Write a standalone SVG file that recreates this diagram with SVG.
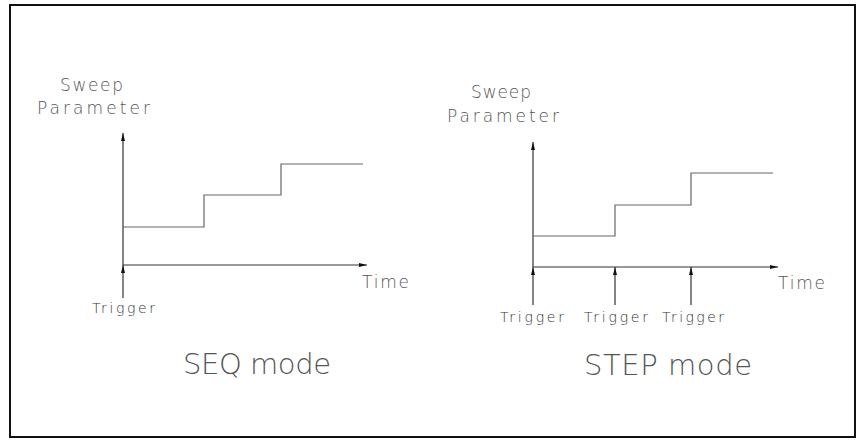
<svg xmlns="http://www.w3.org/2000/svg" width="859" height="442" viewBox="0 0 859 442">
<style>
.t{font-family:"DejaVu Sans","Liberation Sans",sans-serif;font-weight:200;fill:#555}
.lbl{font-size:17px}
.trg{font-size:14px;fill:#333}
.mode{font-size:29px}
.ax{fill:none;stroke:#333;stroke-width:1.2}
.step{fill:none;stroke:#666;stroke-width:1.2}
</style>
<defs>
<marker id="ah" markerUnits="userSpaceOnUse" markerWidth="9" markerHeight="5" refX="8" refY="2.5" orient="auto">
<path d="M0,0.5 L8,2.5 L0,4.5 z" fill="#111"/>
</marker>
</defs>
<rect x="10" y="5" width="845" height="432" fill="#fff" stroke="#111" stroke-width="2"/>
<g id="connectors">
<path class="ax" d="M123,265 V133" marker-end="url(#ah)"/>
<path class="ax" d="M123,265 H367" marker-end="url(#ah)"/>
<path class="ax" d="M123,298 V265" marker-end="url(#ah)"/>
<path class="ax" d="M533,267 V142" marker-end="url(#ah)"/>
<path class="ax" d="M533,267 H778" marker-end="url(#ah)"/>
<path class="ax" d="M533,305 V267" marker-end="url(#ah)"/>
<path class="ax" d="M615,305 V267" marker-end="url(#ah)"/>
<path class="ax" d="M691,305 V267" marker-end="url(#ah)"/>
</g>
<g id="seq-curve"><path class="step" d="M123,227 H204 V195 H281 V164 H363"/></g>
<g id="step-curve"><path class="step" d="M533,236 H615 V205 H691 V173 H773"/></g>
<g id="seq-labels">
<text class="t lbl" x="60" y="91" textLength="63" lengthAdjust="spacing">Sweep</text>
<text class="t lbl" x="37" y="114" textLength="113" lengthAdjust="spacing">Parameter</text>
<text class="t lbl" x="362" y="288" textLength="47" lengthAdjust="spacing">Time</text>
<text class="t trg" x="92" y="313" textLength="63" lengthAdjust="spacing">Trigger</text>
<text class="t mode" x="183" y="374" textLength="148" lengthAdjust="spacing">SEQ mode</text>
</g>
<g id="step-labels">
<text class="t lbl" x="471" y="98" textLength="60" lengthAdjust="spacing">Sweep</text>
<text class="t lbl" x="447" y="122" textLength="112" lengthAdjust="spacing">Parameter</text>
<text class="t lbl" x="778" y="289" textLength="47" lengthAdjust="spacing">Time</text>
<text class="t trg" x="500" y="322" textLength="64" lengthAdjust="spacing">Trigger</text>
<text class="t trg" x="584" y="322" textLength="64" lengthAdjust="spacing">Trigger</text>
<text class="t trg" x="662" y="322" textLength="62" lengthAdjust="spacing">Trigger</text>
<text class="t mode" x="584" y="375" textLength="168" lengthAdjust="spacing">STEP mode</text>
</g>
</svg>
